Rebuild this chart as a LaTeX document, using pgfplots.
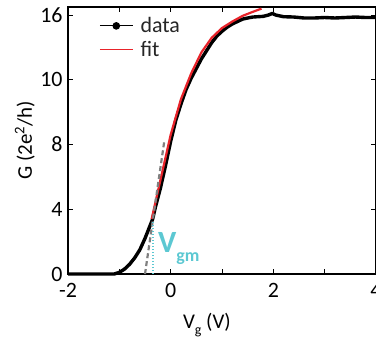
\documentclass[border=0pt]{standalone}
\usepackage{fontspec}
\setmainfont{Carlito}
\usepackage{pgfplots}
\pgfplotsset{compat=1.18}
\definecolor{vcyan}{HTML}{5CC8D2}
\definecolor{fitred}{HTML}{E8232A}
\begin{document}
\begin{tikzpicture}
\begin{axis}[
  scale only axis, width=308bp, height=267bp,
  at={(0,0)}, anchor=south west,
  xmin=-2, xmax=4, ymin=0, ymax=16.5,
  xtick={-2,-1,0,1,2,3,4}, xticklabels={-2,,0,,2,,4},
  ytick={0,4,8,12,16}, yticklabels={0,4,8,10,16},
  tick align=inside, major tick length=5bp,
  tick style={black, line width=0.8bp},
  axis line style={line width=1.2bp},
  /pgf/number format/assume math mode=true,
  tick label style={font=\fontsize{22}{24}\selectfont},
  xticklabel style={yshift=-6bp},
  yticklabel style={xshift=-2bp},
  label style={font=\fontsize{21}{23}\selectfont},
  xlabel={V\raisebox{-6bp}{\fontsize{14}{14}\selectfont g} (V)},
  ylabel={G (2e\textsuperscript{2}/h)},
  xlabel style={at={(axis description cs:0.451,-0.191)}, anchor=center},
  ylabel style={at={(axis description cs:-0.14,0.5)}, anchor=center},
  clip=false,
  legend style={draw=white, fill=white, at={(axis description cs:0.10,0.965)}, anchor=north west,
    font=\fontsize{22}{24}\selectfont, row sep=5bp, column sep=6bp, inner sep=0pt,
    nodes={inner sep=1pt, text=black!85}},
  legend cell align=left,
  legend image code/.code={\draw[mark repeat=2,mark phase=2] plot coordinates {(0bp,0bp) (16.5bp,0bp) (33bp,0bp)};},
]
\addplot[black, line width=3.4bp, line join=round,
  legend image post style={line width=1.2bp, mark=*, mark size=3.2bp, mark options={solid, fill=black}}]
coordinates {
(-2,0) (-1.5,0) (-1.1,0) (-1.0,0.1) (-0.9,0.3) (-0.8,0.6) (-0.7,1.0) (-0.6,1.5)
(-0.5,2.2) (-0.4,3.0) (-0.35,3.4) (-0.3,4.1) (-0.2,5.3) (-0.1,6.7) (0.0,8.2)
(0.1,9.5) (0.2,10.5) (0.3,11.4) (0.4,12.1) (0.5,12.7) (0.6,13.3) (0.7,13.8)
(0.8,14.3) (0.9,14.7) (1.0,15.0) (1.1,15.25) (1.2,15.45) (1.3,15.6) (1.4,15.75)
(1.5,15.82) (1.6,15.88) (1.7,15.9) (1.8,15.92) (1.9,16.0) (1.98,16.1) (2.05,16.0)
(2.2,15.9) (2.4,15.88) (2.6,15.82) (2.8,15.82) (3.0,15.85) (3.2,15.82) (3.4,15.85)
(3.6,15.88) (3.8,15.85) (4.0,15.85)
};
\addlegendentry{data}
\addplot[fitred, line width=2.2bp,
  legend image post style={line width=1.6bp}]
coordinates {
(-0.37,3.4) (-0.2,5.8) (0,8.6) (0.2,10.8) (0.4,12.4) (0.6,13.7) (0.8,14.6)
(1.0,15.2) (1.2,15.6) (1.4,15.95) (1.6,16.2) (1.77,16.4)
};
\addlegendentry{fit}
\addplot[gray, line width=2.2bp, dash pattern=on 5bp off 3bp, forget plot] coordinates {(-0.50,0) (-0.12,8.3)};
\addplot[vcyan, line width=2bp, dash pattern=on 1.5bp off 1.5bp, forget plot] coordinates {(-0.35,0) (-0.35,3.3)};
\node[anchor=base west, text=vcyan, inner sep=0pt, font=\fontsize{31}{31}\bfseries\selectfont]
  at (axis cs:-0.25,1.3) {V\raisebox{-9bp}{\fontsize{18}{18}\bfseries\selectfont gm}};
\end{axis}
\pgfresetboundingbox
\path (-68bp,-71bp) rectangle (308bp,274bp);
\end{tikzpicture}
\end{document}
